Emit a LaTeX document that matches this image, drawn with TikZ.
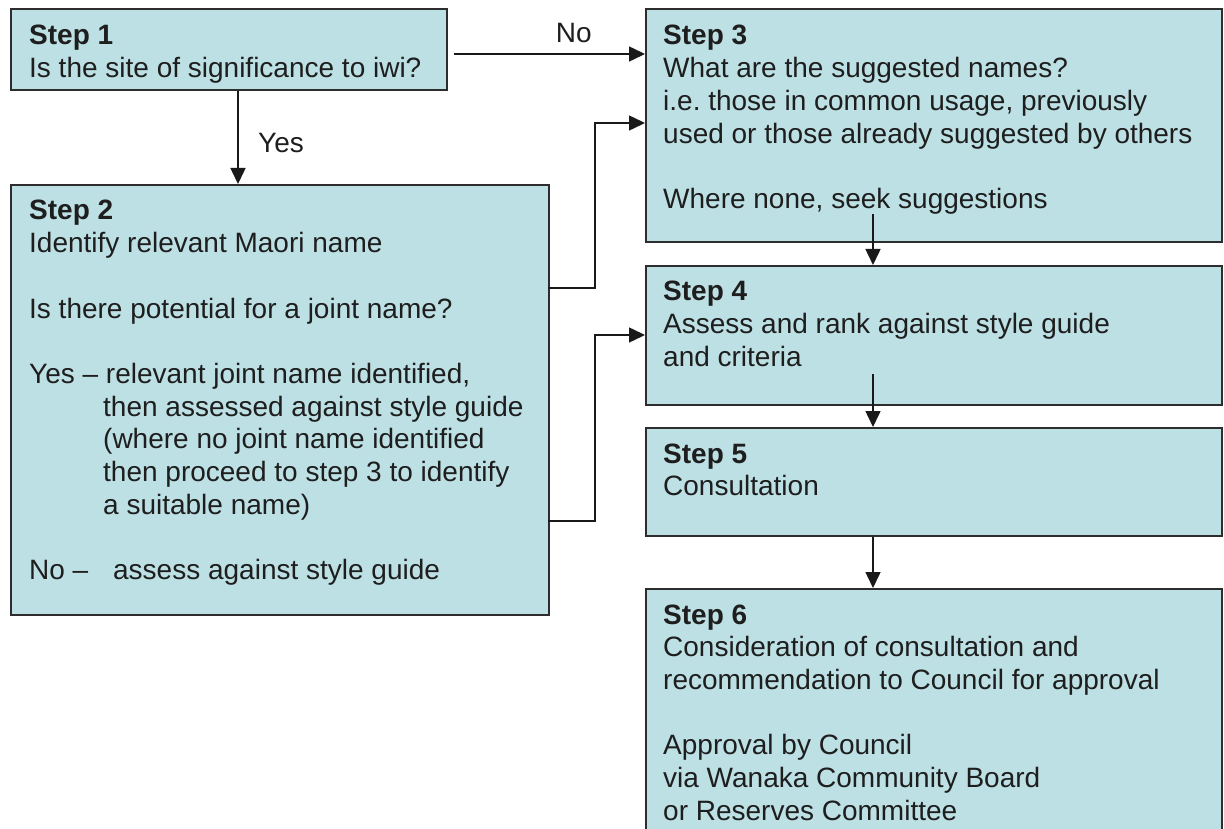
\documentclass[tikz,border=0pt]{standalone}
\usepackage{fontspec}
\setmainfont{Liberation Sans}
\usetikzlibrary{arrows.meta}
\definecolor{boxfill}{RGB}{189,224,228}
\definecolor{boxline}{RGB}{45,45,45}
\definecolor{txt}{RGB}{30,30,30}
\newcommand\boxlines[1]{\vtop{\halign{##\hfil\cr#1\crcr}}}
\frenchspacing
\begin{document}
\begin{tikzpicture}[x=1pt,y=-1pt,
  stepbox/.style={draw=boxline,fill=boxfill,line width=1.8pt,inner sep=0pt,anchor=north west},
  boxtxt/.style={anchor=base west,inner sep=0pt,text=txt,font=\fontsize{28}{32.7}\selectfont},
  lbl/.style={inner sep=0pt,text=txt,font=\fontsize{28}{32.7}\selectfont},
  arr/.style={line width=1.5pt,draw=black!90,-{Triangle[length=16pt,width=15pt]}},
  conn/.style={line width=1.5pt,draw=black!90}]
\useasboundingbox (0,0) rectangle (1224,829);
\clip (0,0) rectangle (1224,829);

\node[stepbox,minimum width=436pt,minimum height=81pt] (s1) at (10,8) {};
\node[stepbox,minimum width=538pt,minimum height=430pt] (s2) at (10,184) {};
\node[stepbox,minimum width=576pt,minimum height=233pt] (s3) at (645,8) {};
\node[stepbox,minimum width=576pt,minimum height=139pt] (s4) at (645,265) {};
\node[stepbox,minimum width=576pt,minimum height=108pt] (s5) at (645,427) {};
\node[stepbox,minimum width=576pt,minimum height=262pt] (s6) at (645,588) {};

\node[boxtxt] (t1) at ([shift={(19,37)}]s1.north west) {\boxlines{\textbf{Step 1}\cr Is the site of significance to iwi?}};
\node[boxtxt] (t2) at ([shift={(19,36)}]s2.north west) {\boxlines{\textbf{Step 2}\cr
Identify relevant Maori name\cr
\cr
Is there potential for a joint name?\cr
\cr
Yes – relevant joint name identified,\cr
\hskip74pt then assessed against style guide\cr
\hskip74pt (where no joint name identified\cr
\hskip74pt then proceed to step 3 to identify\cr
\hskip74pt a suitable name)\cr
\cr
\makebox[84pt][l]{No –}assess against style guide}};
\node[boxtxt] (t3) at ([shift={(18,37)}]s3.north west) {\boxlines{\textbf{Step 3}\cr
What are the suggested names?\cr
i.e. those in common usage, previously\cr
used or those already suggested by others\cr
\cr
Where none, seek suggestions}};
\node[boxtxt] (t4) at ([shift={(18,36)}]s4.north west) {\boxlines{\textbf{Step 4}\cr
Assess and rank against style guide\cr
and criteria}};
\node[boxtxt] (t5) at ([shift={(18,36)}]s5.north west) {\boxlines{\textbf{Step 5}\cr
Consultation}};
\node[boxtxt] (t6) at ([shift={(18,36)}]s6.north west) {\boxlines{\textbf{Step 6}\cr
Consideration of consultation and\cr
recommendation to Council for approval\cr
\cr
Approval by Council\cr
via Wanaka Community Board\cr
or Reserves Committee}};

% connectors
\draw[arr] ([shift={(6,46)}]s1.north east) -- ([shift={(0,46)}]s3.north west);
\node[lbl,anchor=base] (lno) at ([shift={(126,35)}]s1.north east) {No};
\draw[arr] ([shift={(228,0)}]s1.south west) -- ([shift={(228,0)}]s2.north west);
\node[lbl,anchor=base west] (lyes) at ([shift={(248,62)}]s1.south west) {Yes};
\draw[arr] ([shift={(-2,104)}]s2.north east) -- ++(47,0) |- ([shift={(0,115)}]s3.north west);
\draw[arr] ([shift={(-2,337)}]s2.north east) -- ++(47,0) |- ([shift={(0,70)}]s4.north west);
\draw[arr] ([shift={(228,-29)}]s3.south west) -- ([shift={(228,0)}]s4.north west);
\draw[arr] ([shift={(228,-32)}]s4.south west) -- ([shift={(228,0)}]s5.north west);
\draw[arr] ([shift={(228,0)}]s5.south west) -- ([shift={(228,0)}]s6.north west);
\end{tikzpicture}
\end{document}
